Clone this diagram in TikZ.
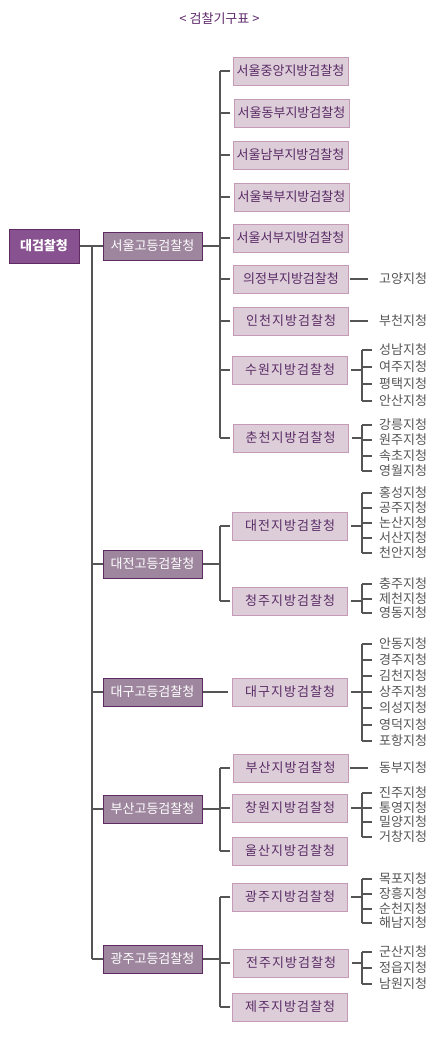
\documentclass[tikz,border=0pt]{standalone}
\usepackage{fontspec}
\setmainfont{Noto Sans CJK KR}
\newfontfamily\krsp[LetterSpace=8]{Noto Sans CJK KR}
\definecolor{ttl}{HTML}{5E2A6A}
\definecolor{topfill}{HTML}{87528F}
\definecolor{topdraw}{HTML}{5E2A62}
\definecolor{hifill}{HTML}{9E879E}
\definecolor{hidraw}{HTML}{5E2A62}
\definecolor{lofill}{HTML}{DCCDD8}
\definecolor{lodraw}{HTML}{C49AB7}
\definecolor{lotext}{HTML}{5A2B66}
\definecolor{lnc}{HTML}{555555}
\tikzset{
  topbox/.style={draw=topdraw, fill=topfill, line width=1pt, minimum width=70pt, minimum height=34pt, text=white, font=\fontsize{13}{13}\selectfont\bfseries, inner sep=0pt},
  hibox/.style={draw=hidraw, fill=hifill, line width=1pt, minimum width=99pt, minimum height=28pt, text=white, font=\fontsize{13}{13}\selectfont, inner sep=0pt},
  lobox/.style={draw=lodraw, fill=lofill, line width=1pt, minimum width=115pt, minimum height=28pt, text=lotext, font=\fontsize{13}{13}\selectfont, inner sep=0pt},
  lospace/.style={lobox, font=\fontsize{13}{13}\krsp},
  brtxt/.style={anchor=west, text=lnc, font=\fontsize{13}{13}\selectfont, inner sep=0pt},
  conn/.style={draw=lnc, line width=1.1pt},
}
\begin{document}
\begin{tikzpicture}[x=1pt,y=-1pt]
\useasboundingbox (0,0) rectangle (439,1044);
\fill[white] (0,0) rectangle (439,1044);
\node[text=ttl, font=\fontsize{13}{13}\selectfont, inner sep=0pt] (title) at (219.5,19) {<\ 검찰기구표 >};

% top
\node[topbox] (dg) at (44,246) {대검찰청};
% high offices
\node[hibox] (hs) at (152.5,246) {서울고등검찰청};
\node[hibox] (hd) at (152.5,564) {대전고등검찰청};
\node[hibox] (hg) at (152.5,692) {대구고등검찰청};
\node[hibox] (hb) at (152.5,809) {부산고등검찰청};
\node[hibox] (hk) at (152.5,959) {광주고등검찰청};

\coordinate (trunk) at (92,0);
\coordinate (lvx) at (220,0);
\coordinate (bx) at (362,0);

\draw[conn] (dg.east) -- (hs.west);
\draw[conn] (trunk |- dg.east) -- (trunk |- hk.west);
\foreach \n in {hd,hg,hb,hk} \draw[conn] (trunk |- \n.west) -- (\n.west);

% district offices
\node[lobox] (s1) at (290.5,71) {서울중앙지방검찰청};
\node[lobox] (s2) at (291.5,113) {서울동부지방검찰청};
\node[lobox] (s3) at (290.5,155) {서울남부지방검찰청};
\node[lobox] (s4) at (291.5,197) {서울북부지방검찰청};
\node[lobox] (s5) at (290.5,238) {서울서부지방검찰청};
\node[lobox] (s6) at (291,279) {의정부지방검찰청};
\node[lospace] (s7) at (291,321) {인천지방검찰청};
\node[lospace] (s8) at (290,370) {수원지방검찰청};
\node[lospace] (s9) at (290.5,438) {춘천지방검찰청};
\node[lospace] (dj) at (290,526) {대전지방검찰청};
\node[lospace] (cj) at (290,601) {청주지방검찰청};
\node[lospace] (dk) at (290,692) {대구지방검찰청};
\node[lospace] (bs) at (290.5,768) {부산지방검찰청};
\node[lospace] (cw) at (290,808) {창원지방검찰청};
\node[lospace] (us) at (290,851) {울산지방검찰청};
\node[lospace] (gj) at (290,897) {광주지방검찰청};
\node[lospace] (jj) at (291,963) {전주지방검찰청};
\node[lospace] (je) at (290,1007) {제주지방검찰청};

% level-2 connectors
\draw[conn] (hs.east) -- (lvx |- hs.east);
\draw[conn] (lvx |- s1.west) -- (lvx |- s9.west);
\foreach \n in {s1,s2,s3,s4,s5,s6,s7,s8,s9} \draw[conn] (lvx |- \n.west) -- ++(10,0);
\draw[conn] (hd.east) -- (lvx |- hd.east);
\draw[conn] (lvx |- dj.west) -- (lvx |- cj.west);
\foreach \n in {dj,cj} \draw[conn] (lvx |- \n.west) -- ++(10,0);
\draw[conn] (hg.east) -- ([xshift=-4pt]dk.west);
\draw[conn] (hb.east) -- (lvx |- hb.east);
\draw[conn] (lvx |- bs.west) -- (lvx |- us.west);
\foreach \n in {bs,cw,us} \draw[conn] (lvx |- \n.west) -- ++(10,0);
\draw[conn] (hk.east) -- (lvx |- hk.east);
\draw[conn] (lvx |- gj.west) -- (lvx |- je.west);
\foreach \n in {gj,jj,je} \draw[conn] (lvx |- \n.west) -- ++(10,0);

% single branches
\node[brtxt] (b6) at (379,279) {고양지청};
\node[brtxt] (b7) at (379,321) {부천지청};
\node[brtxt] (bb) at (379,768) {동부지청};
\draw[conn] ([xshift=1pt]s6.east) -- ([xshift=-11pt]b6.west);
\draw[conn] ([xshift=1pt]s7.east) -- ([xshift=-11pt]b7.west);
\draw[conn] ([xshift=1pt]bs.east) -- ([xshift=-11pt]bb.west);

% multi branches
\foreach \yy/\lab [count=\i] in {350/성남지청,367/여주지청,384/평택지청,401/안산지청}
  \node[brtxt] (sw\i) at (379,\yy) {\lab};
\draw[conn] ([xshift=3pt]s8.east) -- (bx |- s8.east);
\draw[conn] (bx |- sw1.west) -- (bx |- sw4.west);
\foreach \i in {1,...,4} \draw[conn] (bx |- sw\i.west) -- ([xshift=-7pt]sw\i.west);

\foreach \yy/\lab [count=\i] in {425/강릉지청,440/원주지청,456/속초지청,471/영월지청}
  \node[brtxt] (cc\i) at (379,\yy) {\lab};
\draw[conn] ([xshift=3pt]s9.east) -- (bx |- s9.east);
\draw[conn] (bx |- cc1.west) -- (bx |- cc4.west);
\foreach \i in {1,...,4} \draw[conn] (bx |- cc\i.west) -- ([xshift=-7pt]cc\i.west);

\foreach \yy/\lab [count=\i] in {493/홍성지청,508/공주지청,523/논산지청,538/서산지청,553/천안지청}
  \node[brtxt] (dd\i) at (379,\yy) {\lab};
\draw[conn] ([xshift=3pt]dj.east) -- (bx |- dj.east);
\draw[conn] (bx |- dd1.west) -- (bx |- dd5.west);
\foreach \i in {1,...,5} \draw[conn] (bx |- dd\i.west) -- ([xshift=-7pt]dd\i.west);

\foreach \yy/\lab [count=\i] in {584/충주지청,599/제천지청,613/영동지청}
  \node[brtxt] (ch\i) at (379,\yy) {\lab};
\draw[conn] ([xshift=3pt]cj.east) -- (bx |- cj.east);
\draw[conn] (bx |- ch1.west) -- (bx |- ch3.west);
\foreach \i in {1,...,3} \draw[conn] (bx |- ch\i.west) -- ([xshift=-7pt]ch\i.west);

\foreach \yy/\lab [count=\i] in {644/안동지청,660/경주지청,676/김천지청,692/상주지청,708/의성지청,725/영덕지청,741/포항지청}
  \node[brtxt] (dg\i) at (379,\yy) {\lab};
\draw[conn] ([xshift=3pt]dk.east) -- (bx |- dk.east);
\draw[conn] (bx |- dg1.west) -- (bx |- dg7.west);
\foreach \i in {1,...,7} \draw[conn] (bx |- dg\i.west) -- ([xshift=-7pt]dg\i.west);

\foreach \yy/\lab [count=\i] in {793/진주지청,808/통영지청,822/밀양지청,837/거창지청}
  \node[brtxt] (cw\i) at (379,\yy) {\lab};
\draw[conn] ([xshift=3pt]cw.east) -- (bx |- cw.east);
\draw[conn] (bx |- cw1.west) -- (bx |- cw4.west);
\foreach \i in {1,...,4} \draw[conn] (bx |- cw\i.west) -- ([xshift=-7pt]cw\i.west);

\foreach \yy/\lab [count=\i] in {879/목포지청,894/장흥지청,909/순천지청,923/해남지청}
  \node[brtxt] (gw\i) at (379,\yy) {\lab};
\draw[conn] ([xshift=3pt]gj.east) -- (bx |- gj.east);
\draw[conn] (bx |- gw1.west) -- (bx |- gw4.west);
\foreach \i in {1,...,4} \draw[conn] (bx |- gw\i.west) -- ([xshift=-7pt]gw\i.west);

\foreach \yy/\lab [count=\i] in {952/군산지청,968/정읍지청,984/남원지청}
  \node[brtxt] (jw\i) at (379,\yy) {\lab};
\draw[conn] ([xshift=3pt]jj.east) -- (bx |- jj.east);
\draw[conn] (bx |- jw1.west) -- (bx |- jw3.west);
\foreach \i in {1,...,3} \draw[conn] (bx |- jw\i.west) -- ([xshift=-7pt]jw\i.west);
\end{tikzpicture}
\end{document}
